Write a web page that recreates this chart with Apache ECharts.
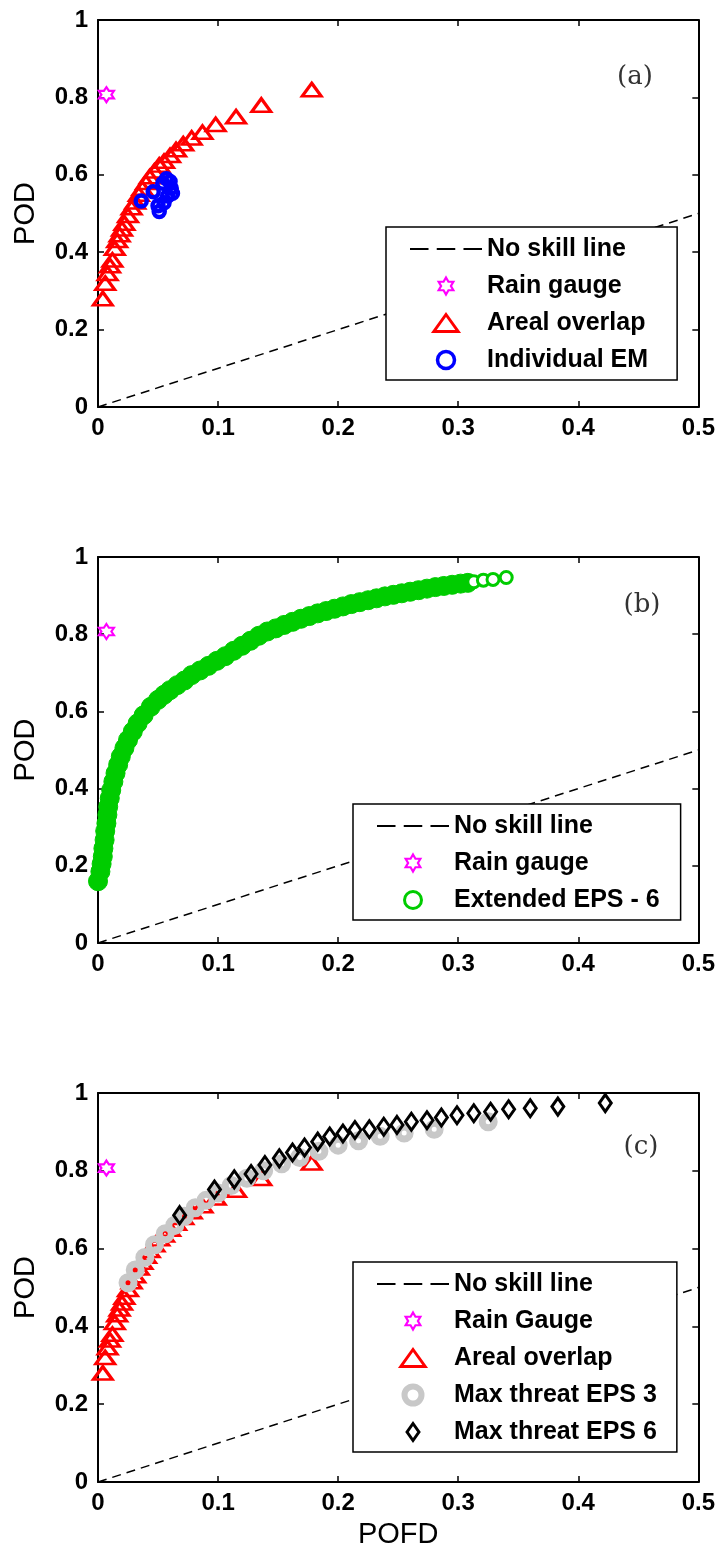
<!DOCTYPE html>
<html>
<head>
<meta charset="utf-8">
<script src="https://cdn.jsdelivr.net/npm/echarts@6/dist/echarts.min.js"></script>
<style>
  html, body { margin: 0; padding: 0; background: #fff; }
  #chart { width: 718px; height: 1554px; }
</style>
</head>
<body>
<div id="chart"></div>
<script>
// axis ticks
const pofdTicks = [0, 0.1, 0.2, 0.3, 0.4, 0.5];
const podTicks = [0, 0.2, 0.4, 0.6, 0.8, 1];

// no skill line (POD = POFD)
const noSkillPofd = [0, 0.5];
const noSkillPod = [0, 0.5];

// rain gauge
const rainPofd = [0.007];
const rainPod = [0.807];

// areal overlap
const arealPofd = [0.004, 0.006, 0.008, 0.010, 0.012, 0.014, 0.016, 0.018, 0.020, 0.022, 0.025, 0.028, 0.031, 0.034,
  0.037, 0.040, 0.043, 0.047, 0.051, 0.055, 0.060, 0.065, 0.071, 0.078, 0.087, 0.098, 0.115, 0.136, 0.178];
const arealPod = [0.28, 0.32, 0.345, 0.365, 0.38, 0.41, 0.43, 0.445, 0.46, 0.475, 0.495, 0.515, 0.53, 0.55,
  0.565, 0.58, 0.595, 0.61, 0.625, 0.635, 0.65, 0.665, 0.68, 0.695, 0.71, 0.73, 0.75, 0.78, 0.82];

// individual ensemble members
const emPofd = [0.036, 0.046, 0.050, 0.051, 0.054, 0.055, 0.057, 0.058, 0.060, 0.061, 0.062];
const emPod = [0.532, 0.556, 0.520, 0.505, 0.578, 0.528, 0.590, 0.545, 0.583, 0.565, 0.552];

// extended EPS - 6
const extPofd = [0.000, 0.002, 0.003, 0.004, 0.0045, 0.0055, 0.006, 0.007, 0.0078, 0.0085, 0.0098, 0.011, 0.0128,
  0.0146, 0.0168, 0.019, 0.022, 0.025, 0.029, 0.033, 0.038, 0.044, 0.050, 0.055, 0.060, 0.066, 0.072, 0.078,
  0.085, 0.092, 0.099, 0.106, 0.113, 0.120, 0.127, 0.134, 0.141, 0.148, 0.155, 0.162, 0.169, 0.176, 0.183,
  0.190, 0.197, 0.204, 0.211, 0.218, 0.225, 0.232, 0.239, 0.246, 0.253, 0.260, 0.267, 0.274, 0.281, 0.288,
  0.295, 0.302, 0.308, 0.313, 0.321, 0.329, 0.340];
const extPod = [0.160, 0.185, 0.205, 0.224, 0.245, 0.267, 0.290, 0.310, 0.332, 0.353, 0.375, 0.396, 0.418,
  0.440, 0.462, 0.483, 0.505, 0.526, 0.548, 0.569, 0.590, 0.612, 0.630, 0.643, 0.655, 0.668, 0.680, 0.694,
  0.706, 0.718, 0.731, 0.743, 0.757, 0.770, 0.783, 0.796, 0.807, 0.815, 0.824, 0.832, 0.840, 0.847, 0.854,
  0.860, 0.866, 0.872, 0.878, 0.883, 0.888, 0.893, 0.898, 0.902, 0.906, 0.910, 0.914, 0.918, 0.922, 0.925,
  0.928, 0.931, 0.933, 0.936, 0.940, 0.942, 0.947];

// max threat EPS 3
const eps3Pofd = [0.025, 0.031, 0.039, 0.047, 0.056, 0.064, 0.072, 0.081, 0.090, 0.100, 0.111, 0.124, 0.138,
  0.153, 0.168, 0.184, 0.200, 0.217, 0.235, 0.255, 0.280, 0.325];
const eps3Pod = [0.512, 0.545, 0.577, 0.610, 0.638, 0.660, 0.683, 0.705, 0.724, 0.743, 0.762, 0.781, 0.800,
  0.818, 0.834, 0.850, 0.866, 0.877, 0.889, 0.897, 0.907, 0.926];

// max threat EPS 6
const eps6Pofd = [0.068, 0.097, 0.1135, 0.1275, 0.139, 0.151, 0.162, 0.172, 0.183, 0.193, 0.204, 0.214, 0.226,
  0.238, 0.249, 0.261, 0.274, 0.286, 0.299, 0.313, 0.327, 0.342, 0.360, 0.383, 0.4225];
const eps6Pod = [0.686, 0.752, 0.778, 0.792, 0.815, 0.832, 0.847, 0.860, 0.875, 0.888, 0.896, 0.905, 0.907,
  0.913, 0.918, 0.926, 0.930, 0.937, 0.943, 0.948, 0.952, 0.958, 0.961, 0.965, 0.974];

const zip = (xs, ys) => xs.map((x, i) => [x, ys[i]]);

const hexagram = 'path://M50 0L64.4 25L93.3 25L78.9 50L93.3 75L64.4 75L50 100L35.6 75L6.7 75L21.1 50L6.7 25L35.6 25Z';
const triangle = 'path://M50 0L100 70L0 70Z';
const diamond = 'path://M35 0L70 50L35 100L0 50Z';
const dashes = 'path://M0 0H18V2H0ZM26 0H44V2H26ZM52 0H70V2H52Z';
const none = 'rgba(0,0,0,0)';
const font = 'Liberation Sans';

const grids = [
  { left: 98, top: 20, width: 602, height: 387 },
  { left: 98, top: 557, width: 602, height: 386 },
  { left: 98, top: 1093, width: 602, height: 389 },
];

const xAxes = [];
const yAxes = [];
grids.forEach((g, i) => {
  const xBase = {
    type: 'value', gridIndex: i,
    min: pofdTicks[0], max: pofdTicks[pofdTicks.length - 1], interval: pofdTicks[1] - pofdTicks[0],
    splitLine: { show: false },
    axisLine: { onZero: false, lineStyle: { color: '#000', width: 2 } },
    axisTick: { inside: true, length: 6, lineStyle: { color: '#000', width: 1.5 } },
  };
  xAxes.push(Object.assign({}, xBase, {
    position: 'bottom',
    axisLabel: { margin: 9, color: '#000', fontFamily: font, fontWeight: 'bold', fontSize: 24 },
    name: i === 2 ? 'POFD' : '',
    nameLocation: 'middle', nameGap: 38,
    nameTextStyle: { color: '#000', fontFamily: font, fontSize: 29 },
  }));
  xAxes.push(Object.assign({}, xBase, { position: 'top', axisLabel: { show: false } }));

  const yBase = {
    type: 'value', gridIndex: i,
    min: podTicks[0], max: podTicks[podTicks.length - 1], interval: podTicks[1] - podTicks[0],
    splitLine: { show: false },
    axisLine: { onZero: false, lineStyle: { color: '#000', width: 2 } },
    axisTick: { inside: true, length: 6, lineStyle: { color: '#000', width: 1.5 } },
  };
  yAxes.push(Object.assign({}, yBase, {
    position: 'left',
    axisLabel: { margin: 10, color: '#000', fontFamily: font, fontWeight: 'bold', fontSize: 24 },
    name: 'POD', nameLocation: 'middle', nameGap: 58, nameRotate: 90,
    nameTextStyle: { color: '#000', fontFamily: font, fontSize: 29 },
  }));
  yAxes.push(Object.assign({}, yBase, { position: 'right', axisLabel: { show: false } }));
});

function onGrid(i, s) {
  return Object.assign({ xAxisIndex: 2 * i, yAxisIndex: 2 * i, silent: true }, s);
}

const rainStyle = { color: none, borderColor: '#ff00ff', borderWidth: 2.2, opacity: 1 };
const arealStyle = { color: none, borderColor: '#ff0000', borderWidth: 3, opacity: 1 };
const emStyle = { color: none, borderColor: '#0000ff', borderWidth: 4.5, opacity: 1 };
const eps3Style = { color: none, borderColor: '#c8c8c8', borderWidth: 7, opacity: 1 };
const eps6Style = { color: none, borderColor: '#000', borderWidth: 3, opacity: 1 };
const green = '#00cc00';

const noSkill = (i) => onGrid(i, {
  name: 'No skill line', type: 'line', symbol: 'none',
  data: zip(noSkillPofd, noSkillPod),
  itemStyle: { color: '#000' },
  lineStyle: { color: '#000', width: 1.5, type: [9, 6] },
});
const rain = (i, name) => onGrid(i, {
  name, type: 'scatter', symbol: hexagram, symbolSize: 15,
  data: zip(rainPofd, rainPod),
  itemStyle: rainStyle,
});
const areal = (i) => onGrid(i, {
  name: 'Areal overlap', type: 'scatter', symbol: triangle, symbolSize: [19, 13],
  data: zip(arealPofd, arealPod),
  itemStyle: arealStyle,
});

const series = [
  noSkill(0), rain(0, 'Rain gauge'), areal(0),
  onGrid(0, {
    name: 'Individual EM', type: 'scatter', symbol: 'circle', symbolSize: 11,
    data: zip(emPofd, emPod),
    itemStyle: emStyle,
  }),

  noSkill(1), rain(1, 'Rain gauge'),
  onGrid(1, {
    name: 'Extended EPS - 6', type: 'scatter', symbol: 'circle', symbolSize: 19,
    data: zip(extPofd, extPod).map((p) => p[0] > 0.31
      ? { value: p, symbolSize: 12, itemStyle: { color: '#fff', borderColor: green, borderWidth: 3 } }
      : p),
    itemStyle: { color: green, borderColor: green, borderWidth: 1, opacity: 1 },
  }),

  noSkill(2), rain(2, 'Rain Gauge'), areal(2),
  onGrid(2, {
    name: 'Max threat EPS 3', type: 'scatter', symbol: 'circle', symbolSize: 12,
    data: zip(eps3Pofd, eps3Pod),
    itemStyle: eps3Style,
  }),
  onGrid(2, {
    name: 'Max threat EPS 6', type: 'scatter', symbol: diamond, symbolSize: [12, 17],
    data: zip(eps6Pofd, eps6Pod),
    itemStyle: eps6Style,
  }),
];

const dashItem = { name: 'No skill line', icon: dashes, itemStyle: { color: '#000', borderWidth: 0 } };
function legendBox(left, top, padRight, data) {
  return {
    orient: 'vertical', left, top, align: 'left',
    itemWidth: 72, itemHeight: 17, itemGap: 11,
    padding: [9, padRight, 7, 24],
    borderColor: '#000', borderWidth: 1.5, backgroundColor: '#fff',
    selectedMode: false,
    textStyle: { color: '#000', fontFamily: font, fontWeight: 'bold', fontSize: 25, lineHeight: 26 },
    data,
  };
}

const option = {
  animation: false,
  backgroundColor: '#fff',
  grid: grids,
  xAxis: xAxes,
  yAxis: yAxes,
  series,
  legend: [
    legendBox(386, 227, 29, [dashItem,
      { name: 'Rain gauge', itemStyle: rainStyle },
      { name: 'Areal overlap', itemStyle: arealStyle },
      { name: 'Individual EM', itemStyle: { color: '#fff', borderColor: '#0000ff', borderWidth: 3.5 } }]),
    legendBox(353, 804, 21, [dashItem,
      { name: 'Rain gauge', itemStyle: rainStyle },
      { name: 'Extended EPS - 6', itemStyle: { color: '#fff', borderColor: green, borderWidth: 3 } }]),
    legendBox(353, 1262, 20, [dashItem,
      { name: 'Rain Gauge', itemStyle: rainStyle },
      { name: 'Areal overlap', itemStyle: arealStyle },
      { name: 'Max threat EPS 3', itemStyle: { color: '#fff', borderColor: '#c8c8c8', borderWidth: 6 } },
      { name: 'Max threat EPS 6', itemStyle: eps6Style }]),
  ],
  graphic: [
    ['(a)', 635, 77], ['(b)', 642, 605], ['(c)', 641, 1147],
  ].map(([t, x, y]) => ({
    type: 'text', x, y, silent: true,
    style: { text: t, fill: '#333', font: '26px "DejaVu Serif"', textAlign: 'center', textVerticalAlign: 'middle' },
  })),
};

const myChart = echarts.init(document.getElementById('chart'));
myChart.setOption(option);
</script>
</body>
</html>
